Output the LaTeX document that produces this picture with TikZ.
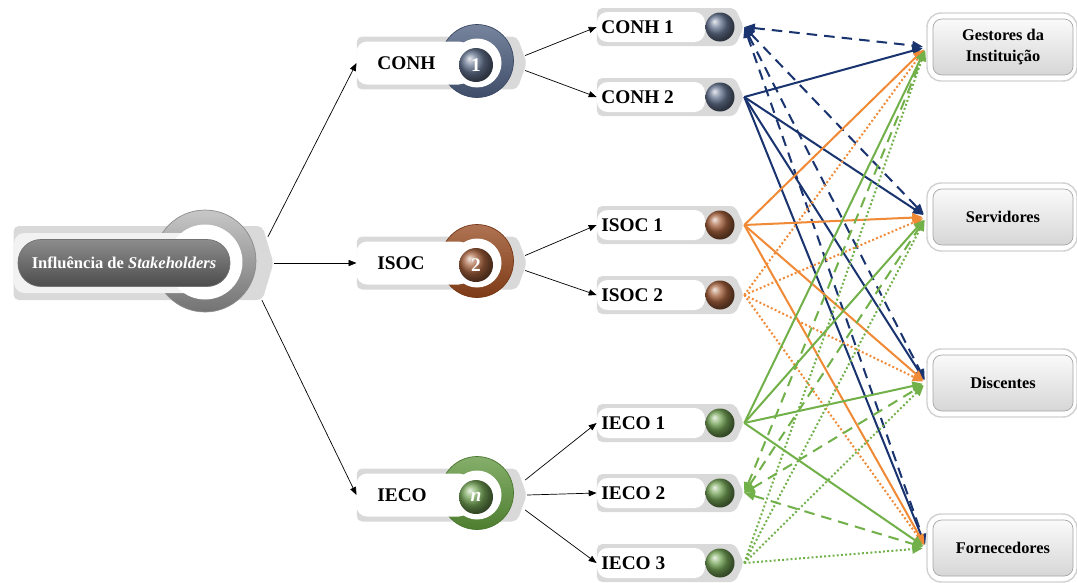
\documentclass[tikz,border=0pt]{standalone}
\usepackage{fontspec}
\setmainfont{Liberation Serif}
\usetikzlibrary{shapes.symbols, arrows.meta}
\definecolor{navy}{HTML}{1A3470}
\definecolor{carrot}{HTML}{F08A36}
\definecolor{leaf}{HTML}{72B04A}
\definecolor{slate}{HTML}{4A5B7C}
\definecolor{rust}{HTML}{94451A}
\definecolor{moss}{HTML}{5C9439}
\def\pale{black!15}
\def\tip{Triangle[length=6pt,width=5pt]}
\tikzstyle{chevron}=[signal, signal to=east, fill=\pale, rounded corners=3pt, inner sep=0pt]
\tikzstyle{whitebox}=[rectangle, fill=white, rounded corners=6pt, inner sep=0pt]
\tikzstyle{boxtext}=[font=\bfseries\fontsize{11}{13}\selectfont, inner sep=0pt, anchor=west]
\tikzstyle{disc}=[circle, inner sep=0pt, text=white, font=\bfseries\fontsize{11}{13}\selectfont]
\tikzstyle{pill}=[rectangle, rounded corners=13pt, top color=black!45, bottom color=black!70,
                  draw=black!55, text=white, minimum width=4.24cm, minimum height=0.94cm,
                  font=\bfseries\fontsize{9.4}{11}\selectfont]
\tikzstyle{target}=[rectangle, fill=white, draw=black!18, thick, rounded corners=8pt,
                    minimum width=3cm, minimum height=1.36cm]
\tikzstyle{targetin}=[rectangle, rounded corners=5pt, top color=black!2, bottom color=black!16,
                      draw=black!35, minimum width=2.8cm, minimum height=1.12cm, align=center,
                      font=\bfseries\fontsize{9.3}{11.4}\selectfont]
\tikzstyle{flow}=[-{Triangle[length=4.5pt,width=3.5pt]}, thin, black]
\tikzstyle{solidl}=[line width=1.15pt, -{\tip}]
\tikzstyle{dashl}=[line width=1.15pt, dash pattern=on 6pt off 4pt, {\tip}-{\tip}]
\tikzstyle{dotl}=[line width=1.15pt, dash pattern=on 1.1pt off 1.3pt, -{\tip}]

\begin{document}
\begin{tikzpicture}[x=0.02cm, y=-0.02cm]
  \useasboundingbox (0,0) rectangle (1077,582);

  % main node
  \node[chevron, minimum width=5.2cm, minimum height=1.48cm, signal pointer angle=147] (bgmain) at (138,263) {};
  \node[circle, top color=black!22, bottom color=black!55, draw=black!45, minimum size=2.04cm, inner sep=0pt] (ringmain) at (205,261) {};
  \node[whitebox, fill=black!5, minimum width=3.72cm, minimum height=1.2cm] (wbmain) at (107,263) {};
  \node[circle, fill=white, minimum size=1.5cm, inner sep=0pt] (holemain) at (205,262) {};
  \node[pill] (main) at (124,263) {Influência de \textit{Stakeholders}};

  % categories
  \foreach \n/\y/\txt/\num/\col in {conh/63/CONH/1/slate, isoc/263/ISOC/2/rust, ieco/495/IECO/\textit{n}/moss}{
    \node[chevron, minimum width=3.4cm, minimum height=1.06cm, signal pointer angle=140] (bg\n) at (437,\y) {};
    \node[circle, top color=\col!75!white, bottom color=\col!85!black, draw=\col!80!black,
          minimum size=1.46cm, inner sep=0pt] (ring\n) at (477,\y-2) {};
    \node[whitebox, minimum width=2.26cm, minimum height=0.86cm] (wb\n) at (413,\y) {};
    \node[circle, fill=white, minimum size=0.98cm, inner sep=0pt] (hole\n) at (477,\y) {};
    \node[disc, ball color=\col!85!white, minimum size=0.68cm] (num\n) at (476,\y+2) {\num};
    \node[boxtext] (\n) at (377,\y) {\txt};
  }

  % sub nodes
  \foreach \n/\y/\txt/\col in {c1/27/CONH 1/slate, c2/97/CONH 2/slate, s1/225/ISOC 1/rust,
                               s2/295/ISOC 2/rust, e1/423/IECO 1/moss, e2/493/IECO 2/moss, e3/563/IECO 3/moss}{
    \node[chevron, minimum width=2.94cm, minimum height=0.76cm, signal pointer angle=130] (bg\n) at (666,\y) {};
    \node[whitebox, minimum width=2.16cm, minimum height=0.6cm] (wb\n) at (651,\y) {};
    \node[boxtext] (t\n) at (601,\y) {\txt};
    \node[circle, ball color=\col!85!white, minimum size=0.58cm, inner sep=0pt] (dot\n) at (720,\y) {};
  }

  % stakeholders
  \foreach \n/\y/\txt in {g/47/{Gestores da\\Instituição}, sv/217/Servidores, d/383/Discentes, f/548/Fornecedores}{
    \node[target] (\n) at (1002,\y) {};
    \node[targetin] (in\n) at (1003,\y) {\txt};
  }

  \draw[flow] ([xshift=-0.12cm,yshift=0.52cm]bgmain.east) -- (bgconh.west);
  \draw[flow] (bgmain.east) -- (bgisoc.west);
  \draw[flow] ([xshift=-0.24cm,yshift=-0.74cm]bgmain.east) -- (bgieco.west);

  \draw[flow] ([xshift=-0.04cm,yshift=0.15cm]bgconh.east) -- (bgc1.west);
  \draw[flow] ([xshift=-0.04cm,yshift=-0.15cm]bgconh.east) -- (bgc2.west);
  \draw[flow] ([xshift=-0.04cm,yshift=0.15cm]bgisoc.east) -- (bgs1.west);
  \draw[flow] ([xshift=-0.04cm,yshift=-0.15cm]bgisoc.east) -- (bgs2.west);
  \draw[flow] ([xshift=-0.04cm,yshift=0.3cm]bgieco.east) -- (bge1.west);
  \draw[flow] (bgieco.east) -- (bge2.west);
  \draw[flow] ([xshift=-0.04cm,yshift=-0.3cm]bgieco.east) -- (bge3.west);

  \foreach \s/\sty/\col in {c1/dashl/navy, c2/solidl/navy, s1/solidl/carrot, s2/dotl/carrot,
                            e1/solidl/leaf, e2/dashl/leaf, e3/dotl/leaf}{
    \foreach \t in {g,sv,d,f}{
      \draw[\sty, \col, shorten >=2pt] (bg\s.east) -- (\t.west);
    }
  }

\end{tikzpicture}
\end{document}
